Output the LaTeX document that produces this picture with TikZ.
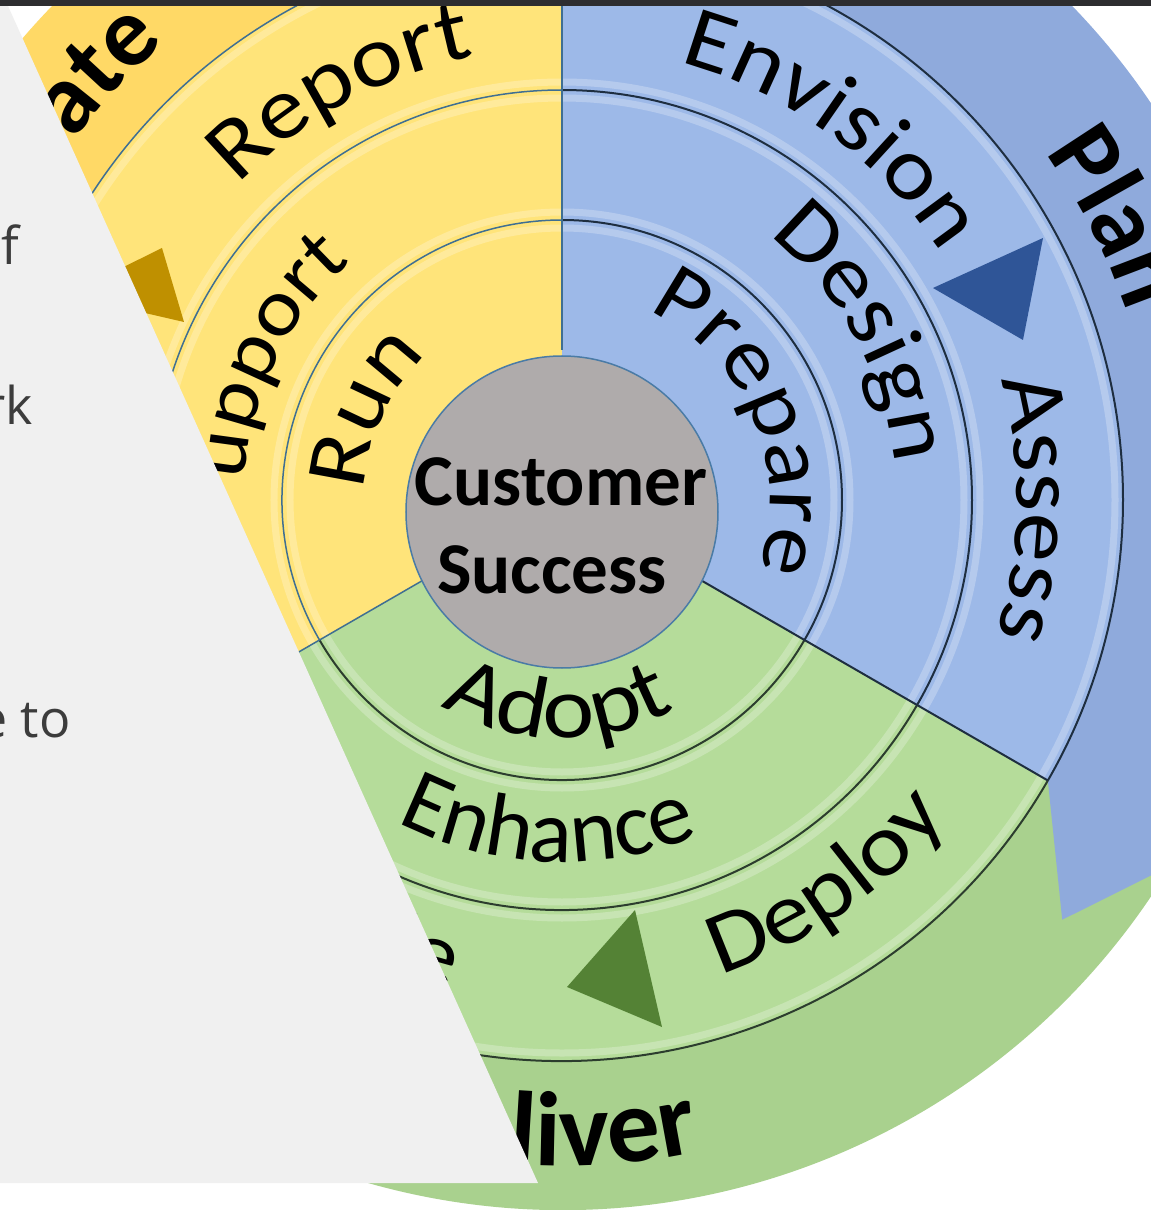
\documentclass[tikz,border=0pt]{standalone}
\usepackage{fontspec}
\setmainfont{Carlito}
\newfontfamily\wideface[FakeStretch=1.12]{Carlito}
\newfontfamily\plainface{Carlito}
\newfontfamily\slideface{Open Sans}
\usetikzlibrary{decorations.text}
\definecolor{planfill}{HTML}{9DB9E8}
\definecolor{planband}{HTML}{8FAADC}
\definecolor{deliverfill}{HTML}{B5DC9A}
\definecolor{deliverband}{HTML}{A9D18E}
\definecolor{operatefill}{HTML}{FFE47A}
\definecolor{operateband}{HTML}{FFD966}
\definecolor{coregray}{HTML}{AFABAB}
\definecolor{coreline}{HTML}{4A7BA6}
\definecolor{planline}{HTML}{1E2E40}
\definecolor{deliverline}{HTML}{2C3D2E}
\definecolor{operateline}{HTML}{3F6F92}
\definecolor{plantri}{HTML}{2F5597}
\definecolor{delivertri}{HTML}{548235}
\definecolor{operatetri}{HTML}{BF9000}
\definecolor{slidegray}{HTML}{F0F0F0}
\definecolor{slidetext}{HTML}{3C3C3C}
\definecolor{topbar}{HTML}{2D2D30}
\tikzstyle{planarc}=[draw=planline, line width=2pt]
\tikzstyle{deliverarc}=[draw=deliverline, line width=2pt]
\tikzstyle{operatearc}=[draw=operateline, line width=1.5pt]
\tikzstyle{bevel}=[draw=white, line width=7pt, opacity=0.25]
\tikzstyle{ringlabel}=[decorate, decoration={text along path, text align=center}]
\tikzstyle{cutlabel}=[decorate, decoration={text along path, text align=right}]
\tikzstyle{slidetxt}=[anchor=base east, inner sep=0pt, text=slidetext, font=\slideface\fontsize{52}{52}\selectfont]

\begin{document}
\begin{tikzpicture}[x=1pt,y=1pt]
	\useasboundingbox (-562,-710) rectangle (589,500);
	\clip (-562,-710) rectangle (589,500);
	\fill[white] (-562,-710) rectangle (589,500);
	\fill[deliverband] (-30:561) arc[start angle=-30,end angle=-150,radius=561] -- (-160:653) -- (-151:710) arc[start angle=-151,end angle=-30,radius=710] -- cycle;
	\fill[planband] (90:561) arc[start angle=90,end angle=-30,radius=561] -- (-40:653) -- (-31:710) arc[start angle=-31,end angle=90,radius=710] -- cycle;
	\fill[operateband] (210:561) arc[start angle=210,end angle=90,radius=561] -- (80:653) -- (89:710) arc[start angle=89,end angle=210,radius=710] -- cycle;
	\fill[planfill] (0,0) -- (90:561) arc[start angle=90,end angle=-30,radius=561] -- cycle;
	\fill[deliverfill] (0,0) -- (-30:561) arc[start angle=-30,end angle=-150,radius=561] -- cycle;
	\fill[operatefill] (0,0) -- (210:561) arc[start angle=210,end angle=90,radius=561] -- cycle;
	\draw[bevel] (0,0) circle (553);
	\draw[bevel] (0,0) circle (418);
	\draw[bevel] (0,0) circle (402);
	\draw[bevel] (0,0) circle (288);
	\draw[bevel] (0,0) circle (272);
	\draw[planarc] (90:280) arc[start angle=90,end angle=-30,radius=280];
	\draw[planarc] (90:410) arc[start angle=90,end angle=-30,radius=410];
	\draw[planarc] (90:561) arc[start angle=90,end angle=-30,radius=561];
	\draw[deliverarc] (-30:280) arc[start angle=-30,end angle=-150,radius=280];
	\draw[deliverarc] (-30:410) arc[start angle=-30,end angle=-150,radius=410];
	\draw[deliverarc] (-30:561) arc[start angle=-30,end angle=-150,radius=561];
	\draw[operatearc] (210:280) arc[start angle=210,end angle=90,radius=280];
	\draw[operatearc] (210:410) arc[start angle=210,end angle=90,radius=410];
	\draw[operatearc] (210:561) arc[start angle=210,end angle=90,radius=561];
	\draw[operatearc] (90:150) -- (90:561);
	\draw[planarc] (-30:150) -- (-30:561);
	\draw[operatearc] (210:150) -- (210:561);
	\node(core)[circle, fill=coregray, draw=coreline, line width=1.5pt, minimum size=312pt, inner sep=0pt] at (0,-12) {};
	\node(cust)[anchor=base, inner sep=0pt, font=\plainface\bfseries\fontsize{73}{73}\selectfont] at (-1,-5) {Customer};
	\node(succ)[anchor=base, inner sep=0pt, font=\plainface\bfseries\fontsize{73}{73}\selectfont] at (-10,-93) {Success};
	\fill[plantri] (371,212) -- (481,262) -- (461,160) -- cycle;
	\fill[delivertri] (5,-487) -- (73,-410) -- (100,-527) -- cycle;
	\fill[operatetri] (-495,205) -- (-400,252) -- (-378,178) -- cycle;
	\path[ringlabel, decoration={text={|\wideface\fontsize{86}{86}\selectfont|Prepare}}] (93:208) arc[start angle=93,end angle=-47,radius=208];
	\path[ringlabel, decoration={text={|\wideface\fontsize{86}{86}\selectfont|Run}}] (215:198) arc[start angle=215,end angle=95,radius=198];
	\path[ringlabel, decoration={text={|\wideface\fontsize{88}{88}\selectfont|Adopt}}] (-161:238) arc[start angle=-161,end angle=-21,radius=238];
	\path[ringlabel, decoration={text={|\wideface\fontsize{88}{88}\selectfont|Design}}] (99:335) arc[start angle=99,end angle=-41,radius=335];
	\path[cutlabel, decoration={text={|\wideface\fontsize{80}{80}\selectfont|upport}}] (230:318) arc[start angle=230,end angle=131.5,radius=318];
	\path[ringlabel, decoration={text={|\plainface\fontsize{90}{90}\selectfont|Enhance}}] (-162.5:362) arc[start angle=-162.5,end angle=-22.5,radius=362];
	\path[ringlabel, decoration={text={|\wideface\fontsize{88}{88}\selectfont|Envision}}] (104:453) arc[start angle=104,end angle=4,radius=453];
	\path[ringlabel, decoration={text={|\wideface\fontsize{88}{88}\selectfont|Assess}}] (49:455) arc[start angle=49,end angle=-51,radius=455];
	\path[ringlabel, decoration={text={|\wideface\fontsize{88}{88}\selectfont|Report}}] (168.5:452) arc[start angle=168.5,end angle=68.5,radius=452];
	\path[ringlabel, decoration={text={|\wideface\fontsize{88}{88}\selectfont|Deploy}}] (-105.5:500) arc[start angle=-105.5,end angle=-5.5,radius=500];
	\path[cutlabel, decoration={text={|\wideface\fontsize{88}{88}\selectfont|le}}] (-170:500) arc[start angle=-170,end angle=-102.8,radius=500];
	\path[ringlabel, decoration={text={|\plainface\bfseries\fontsize{100}{100}\selectfont|Plan}}] (77:595) arc[start angle=77,end angle=-23,radius=595];
	\path[cutlabel, decoration={text={|\plainface\bfseries\fontsize{100}{100}\selectfont|ate}}] (200:606) arc[start angle=200,end angle=130.9,radius=606];
	\path[cutlabel, decoration={text={|\plainface\bfseries\fontsize{106}{106}\selectfont|liver}}] (-150:666) arc[start angle=-150,end angle=-78,radius=666];
	\fill[slidegray] (-562,494) -- (-554,494) -- (-24,-683) -- (-562,-683) -- cycle;
	\node(lineone)[slidetxt] at (-543,235) {f};
	\node(linetwo)[slidetxt] at (-529,75) {rk};
	\node(linethree)[slidetxt] at (-491,-237) {e to};
	\fill[topbar] (-562,494) rectangle (589,500);
\end{tikzpicture}
\end{document}
